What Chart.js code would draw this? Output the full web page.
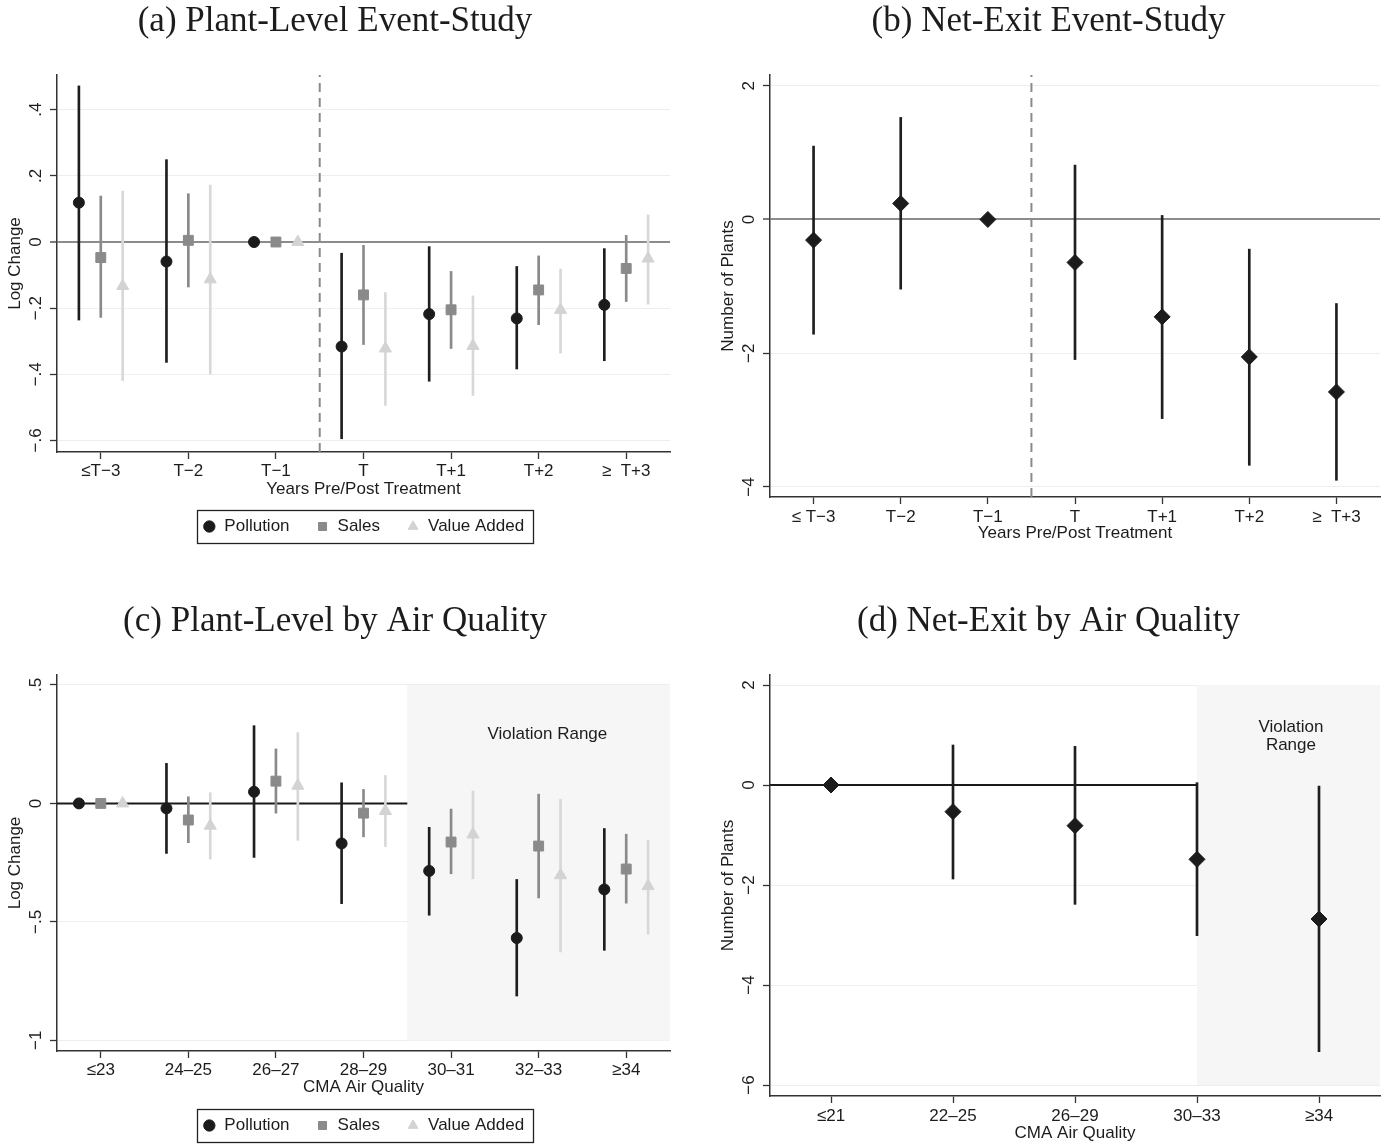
<!DOCTYPE html>
<html><head><meta charset="utf-8">
<script src="https://cdn.jsdelivr.net/npm/chart.js@4.4.1/dist/chart.umd.min.js"></script>
<style>
html,body{margin:0;padding:0;background:#fff;}
body{width:1389px;height:1145px;position:relative;overflow:hidden;}
canvas{position:absolute;display:block;}
</style></head>
<body>
<canvas id="ca" width="690" height="565" style="left:0;top:0"></canvas>
<canvas id="cb" width="676" height="565" style="left:713px;top:0"></canvas>
<canvas id="cc" width="690" height="560" style="left:0;top:585px"></canvas>
<canvas id="cd" width="676" height="560" style="left:713px;top:585px"></canvas>
<script>
// ---------------- DATA ----------------
const eventCatsA = ['≤T−3','T−2','T−1','T','T+1','T+2','≥  T+3'];
const eventCatsB = ['≤ T−3','T−2','T−1','T','T+1','T+2','≥  T+3'];
const airCatsC = ['≤23','24–25','26–27','28–29','30–31','32–33','≥34'];
const airCatsD = ['≤21','22–25','26–29','30–33','≥34'];

const yTicksA = [-0.6,-0.4,-0.2,0,0.2,0.4];
const yTicksB = [-4,-2,0,2];
const yTicksC = [-1,-0.5,0,0.5];
const yTicksD = [-6,-4,-2,0,2];

const seriesNames = ['Pollution','Sales','Value Added'];

// (a) Plant-level event study
const aPollutionEst = [0.119,-0.059,0,-0.316,-0.218,-0.231,-0.190];
const aPollutionLo  = [-0.236,-0.364,null,-0.595,-0.421,-0.384,-0.359];
const aPollutionHi  = [0.472,0.249,null,-0.034,-0.014,-0.074,-0.020];
const aSalesEst = [-0.047,0.005,0,-0.160,-0.205,-0.145,-0.080];
const aSalesLo  = [-0.228,-0.136,null,-0.310,-0.322,-0.250,-0.180];
const aSalesHi  = [0.139,0.146,null,-0.010,-0.089,-0.042,0.020];
const aVAEst = [-0.133,-0.113,0,-0.322,-0.314,-0.205,-0.050];
const aVALo  = [-0.419,-0.399,null,-0.494,-0.464,-0.336,-0.188];
const aVAHi  = [0.154,0.172,null,-0.153,-0.163,-0.082,0.082];

// (b) Net-exit event study
const bEst = [-0.309,0.239,0,-0.643,-1.456,-2.055,-2.579];
const bLo  = [-1.716,-1.042,null,-2.095,-2.978,-3.676,-3.900];
const bHi  = [1.097,1.526,null,0.813,0.060,-0.444,-1.257];

// (c) Plant-level by air quality
const cPollutionEst = [0,-0.021,0.049,-0.169,-0.285,-0.568,-0.363];
const cPollutionLo  = [null,-0.211,-0.228,-0.423,-0.472,-0.813,-0.620];
const cPollutionHi  = [null,0.169,0.328,0.087,-0.101,-0.321,-0.106];
const cSalesEst = [0,-0.070,0.094,-0.041,-0.163,-0.180,-0.277];
const cSalesLo  = [null,-0.166,-0.041,-0.141,-0.297,-0.399,-0.421];
const cSalesHi  = [null,0.028,0.230,0.059,-0.024,0.039,-0.130];
const cVAEst = [0,-0.094,0.075,-0.032,-0.131,-0.303,-0.349];
const cVALo  = [null,-0.235,-0.156,-0.182,-0.318,-0.627,-0.552];
const cVAHi  = [null,0.045,0.299,0.118,0.052,0.017,-0.155];

// (d) Net-exit by air quality
const dEst = [0,-0.533,-0.813,-1.487,-2.68];
const dLo  = [null,-1.88,-2.387,-3.013,-5.333];
const dHi  = [null,0.80,0.773,0.047,-0.02];

// ---------------- STYLE ----------------
const SANS = '"Liberation Sans", Arial, sans-serif';
const SERIF = '"Liberation Serif", "Times New Roman", serif';
const INK = '#1c1c1c';
const SERIES_STYLE = [
  {color:'#1b1b1b', ci:'#1e1e1e', pointStyle:'circle',   radius:5.5, offset:-0.25},
  {color:'#8a8a8a', ci:'#8a8a8a', pointStyle:'rect',     radius:7,   offset:0},
  {color:'#d3d3d3', ci:'#d8d8d8', pointStyle:'triangle', radius:7,   offset:0.25}
];
const DIAMOND = {color:'#1b1b1b', ci:'#1e1e1e', pointStyle:'rectRot', radius:8, offset:0};

function ptData(est, off){ return est.map((v,i)=>({x:i+off, y:v})); }
function ciData(lo, hi, off){
  const out=[]; lo.forEach((l,i)=>{ if(l!==null) out.push({x:i+off, y:[l,hi[i]]}); }); return out;
}
function fmtY(v){
  if (v===0) return '0';
  const a=Math.abs(v);
  const s = a<1 ? String(a).replace(/^0/,'') : String(a);
  return (v<0?'\u2212':'')+s;
}

function makeChart(id, o){
  const datasets=[];
  o.series.forEach(s=>{
    datasets.push({type:'scatter', label:s.name, data:ptData(s.est,s.style.offset),
      pointStyle:s.style.pointStyle, pointRadius:s.style.radius, pointHoverRadius:s.style.radius,
      backgroundColor:s.style.color, borderColor:s.style.color, borderWidth:1, order:1, showInLegend:!!o.legend});
  });
  o.series.forEach(s=>{
    datasets.push({type:'bar', label:s.name+' CI', data:ciData(s.lo,s.hi,s.style.offset),
      backgroundColor:s.style.ci, borderWidth:0, grouped:false, maxBarThickness:2,
      barPercentage:1, categoryPercentage:1, order:2});
  });
  (o.lines||[]).forEach(l=>{
    datasets.push({type:'line', label:'', data:l.data, borderColor:l.color, borderWidth:l.width,
      borderDash:l.dash||[], pointRadius:0, fill:false, order:3, tension:0});
  });

  const helper = {
    id:'helper'+id,
    beforeDatasetsDraw(chart){
      if(!o.shade) return;
      const {x,y}=chart.scales; const c=chart.ctx;
      const x0=x.getPixelForValue(o.shade.x0), x1=x.getPixelForValue(o.shade.x1);
      const y0=y.getPixelForValue(o.shade.y0), y1=y.getPixelForValue(o.shade.y1);
      c.save(); c.fillStyle='#f6f6f6'; c.fillRect(x0,y0,x1-x0,y1-y0); c.restore();
    },
    afterDraw(chart){
      const {x,y}=chart.scales; const c=chart.ctx;
      c.save();
      c.font='17px '+SANS; c.fillStyle=INK; c.textAlign='center'; c.textBaseline='middle';
      y.ticks.forEach(t=>{
        const py=y.getPixelForValue(t.value);
        c.save(); c.translate(chart.chartArea.left-21, py); c.rotate(-Math.PI/2);
        c.fillText(fmtY(t.value),0,0); c.restore();
      });
      (o.notes||[]).forEach(n=>{
        c.fillText(n.text, x.getPixelForValue(n.x), y.getPixelForValue(n.y));
      });
      if (o.legend && chart.legend && chart.legend.legendHitBoxes.length){
        const hb=chart.legend.legendHitBoxes; const last=hb[hb.length-1];
        const x0=hb[0].left-6, x1=last.left+last.width+9;
        const y0=hb[0].top-8, y1=hb[0].top+hb[0].height+8;
        c.strokeStyle='#222'; c.lineWidth=1.3; c.strokeRect(Math.round(x0)+0.5,Math.round(y0)+0.5,Math.round(x1-x0),Math.round(y1-y0));
      }
      c.restore();
    }
  };

  return new Chart(document.getElementById(id), {
    type:'scatter',
    data:{datasets},
    plugins:[helper],
    options:{
      responsive:false, animation:false, events:[],
      layout:{padding:{left:0,right:o.padRight,top:0,bottom:o.padBottom}},
      plugins:{
        title:{display:true, text:o.title, color:INK,
          font:{family:SERIF,size:35,weight:'normal',lineHeight:1.2},
          padding:{top:o.titlePadTop,bottom:o.titlePadBottom}},
        legend:{display:!!o.legend, position:'bottom', fullSize:false,
          labels:{usePointStyle:true, boxWidth:13, boxHeight:8, padding:26.5, color:INK,
            font:{family:SANS,size:17},
            filter:(item,data)=>!!data.datasets[item.datasetIndex].showInLegend}},
        tooltip:{enabled:false}
      },
      scales:{
        x:{type:'linear', min:o.xMin, max:o.xMax, offset:false,
          afterBuildTicks:s=>{ s.ticks=o.cats.map((c,i)=>({value:i})); },
          ticks:{callback:v=>o.cats[Math.round(v)], font:{family:SANS,size:17}, color:INK,
            padding:o.xTickPad, maxRotation:0, minRotation:0, autoSkip:false},
          grid:{offset:false, drawOnChartArea:false, drawTicks:true, tickLength:7, tickColor:'#333', tickWidth:1.3},
          border:{color:'#333', width:1.5},
          title:{display:true, text:o.xTitle, color:INK, font:{family:SANS,size:17,lineHeight:1.2},
            padding:{top:0,bottom:o.xTitlePadBottom}},
          afterFit:s=>{ s.height=o.xHeight; }
        },
        y:{type:'linear', min:o.yMin, max:o.yMax, offset:false,
          afterBuildTicks:s=>{ s.ticks=o.yTicks.map(v=>({value:v})); },
          ticks:{display:false},
          grid:{offset:false, drawTicks:true, tickLength:7, tickColor:'#333', tickWidth:1.3,
            color:ctx=>(o.zeroGray && ctx.tick && ctx.tick.value===0)?'#8c8c8c':'#eeeeee',
            lineWidth:ctx=>(o.zeroGray && ctx.tick && ctx.tick.value===0)?2:1},
          border:{color:'#333', width:1.5},
          title:{display:true, text:o.yTitle, color:INK, font:{family:SANS,size:17,lineHeight:1.2},
            padding:{top:5,bottom:0}},
          afterFit:s=>{ s.width=57; }
        }
      }
    }
  });
}

const treatmentSplit = 2.5;

makeChart('ca', {
  title:'(a) Plant-Level Event-Study', cats:eventCatsA, xMin:-0.5, xMax:6.5, yMin:-0.635, yMax:0.505, yTicks:yTicksA,
  xTitle:'Years Pre/Post Treatment', yTitle:'Log Change', zeroGray:true, legend:true,
  padRight:20, padBottom:20, titlePadTop:1, titlePadBottom:32, xHeight:39.5, xTitlePadBottom:-7.7, xTickPad:2,
  series:[
    {name:seriesNames[0], est:aPollutionEst, lo:aPollutionLo, hi:aPollutionHi, style:SERIES_STYLE[0]},
    {name:seriesNames[1], est:aSalesEst, lo:aSalesLo, hi:aSalesHi, style:SERIES_STYLE[1]},
    {name:seriesNames[2], est:aVAEst, lo:aVALo, hi:aVAHi, style:SERIES_STYLE[2]}
  ],
  lines:[{data:[{x:treatmentSplit,y:-0.635},{x:treatmentSplit,y:0.505}], color:'#8a8a8a', width:2, dash:[9,6]}]
});

makeChart('cb', {
  title:'(b) Net-Exit Event-Study', cats:eventCatsB, xMin:-0.5, xMax:6.5, yMin:-4.15, yMax:2.16, yTicks:yTicksB,
  xTitle:'Years Pre/Post Treatment', yTitle:'Number of Plants', zeroGray:true, legend:false,
  padRight:5, padBottom:20, titlePadTop:1, titlePadBottom:32, xHeight:48, xTitlePadBottom:1.8, xTickPad:3,
  series:[{name:'Net exit', est:bEst, lo:bLo, hi:bHi, style:DIAMOND}],
  lines:[{data:[{x:treatmentSplit,y:-4.15},{x:treatmentSplit,y:2.16}], color:'#8a8a8a', width:2, dash:[9,6]}]
});

makeChart('cc', {
  title:'(c) Plant-Level by Air Quality', cats:airCatsC, xMin:-0.5, xMax:6.5, yMin:-1.045, yMax:0.542, yTicks:yTicksC,
  xTitle:'CMA Air Quality', yTitle:'Log Change', zeroGray:false, legend:true,
  padRight:20, padBottom:1, titlePadTop:16, titlePadBottom:32, xHeight:39.5, xTitlePadBottom:-6.7, xTickPad:2,
  series:[
    {name:seriesNames[0], est:cPollutionEst, lo:cPollutionLo, hi:cPollutionHi, style:SERIES_STYLE[0]},
    {name:seriesNames[1], est:cSalesEst, lo:cSalesLo, hi:cSalesHi, style:SERIES_STYLE[1]},
    {name:seriesNames[2], est:cVAEst, lo:cVALo, hi:cVAHi, style:SERIES_STYLE[2]}
  ],
  shade:{x0:3.5, x1:6.5, y0:0.5, y1:-1},
  notes:[{text:'Violation Range', x:5.1, y:0.293}],
  lines:[{data:[{x:-0.5,y:0},{x:3.5,y:0}], color:'#1a1a1a', width:2}]
});

makeChart('cd', {
  title:'(d) Net-Exit by Air Quality', cats:airCatsD, xMin:-0.5, xMax:4.5, yMin:-6.22, yMax:2.2, yTicks:yTicksD,
  xTitle:'CMA Air Quality', yTitle:'Number of Plants', zeroGray:false, legend:false,
  padRight:5, padBottom:1, titlePadTop:16, titlePadBottom:32, xHeight:48, xTitlePadBottom:0.8, xTickPad:3,
  series:[{name:'Net exit', est:dEst, lo:dLo, hi:dHi, style:DIAMOND}],
  shade:{x0:3, x1:4.5, y0:2, y1:-6},
  notes:[{text:'Violation', x:3.77, y:1.16},{text:'Range', x:3.77, y:0.8}],
  lines:[{data:[{x:-0.5,y:0},{x:3,y:0}], color:'#1a1a1a', width:2}]
});
</script>
</body></html>
